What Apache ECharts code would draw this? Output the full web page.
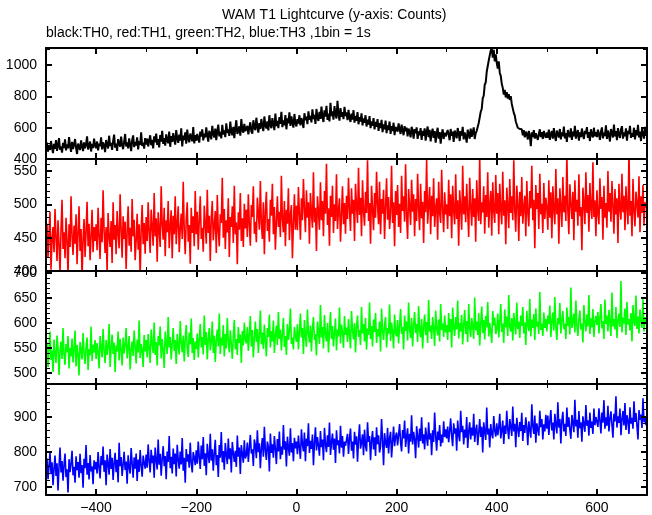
<!DOCTYPE html>
<html><head><meta charset="utf-8">
<script src="https://cdn.jsdelivr.net/npm/echarts@6/dist/echarts.min.js"></script>
<style>html,body{margin:0;padding:0;background:#fff}#c{width:652px;height:515px}</style>
</head><body><div id="c"></div>
<script>
const titleText = 'WAM T1 Lightcurve (y-axis: Counts)';
const subtitleText = 'black:TH0, red:TH1, green:TH2, blue:TH3 ,1bin = 1s';
const timeStart = -500, timeStep = 2;
const xMin = -500, xMax = 700;
const xMajorTicks = [-400,-200,0,200,400,600];
const xMinorTicks = [-500,-300,-100,100,300,500,700];

const th0 = [
462,505,447,489,458,515,472,438,497,466,521,452,486,534,459,480,441,503,470,526,455,493,468,540,482,
446,510,463,491,528,471,432,499,479,457,519,484,450,506,468,494,545,461,483,512,448,497,470,530,487,
470,512,455,499,482,538,461,506,488,444,521,495,467,549,484,503,459,514,556,473,498,452,527,500,479,
543,489,463,511,560,480,506,468,532,494,450,520,551,476,509,487,539,462,515,491,570,483,505,466,534,
493,531,480,516,552,488,523,468,545,506,562,490,527,474,553,512,580,497,533,485,558,519,501,575,478,
547,510,566,525,492,585,531,503,556,517,596,481,549,522,571,498,588,529,507,563,536,514,604,500,552,
517,560,528,505,575,543,590,519,562,538,603,549,511,580,556,526,612,561,537,594,520,578,620,545,573,
532,618,557,583,540,628,566,589,548,640,574,552,605,533,596,648,560,581,609,549,655,585,568,624,579,
570,612,558,601,635,576,562,648,603,584,664,609,569,630,592,656,612,578,672,615,596,640,583,680,618,
597,661,622,585,690,610,643,598,668,625,702,604,647,616,681,590,660,629,699,611,672,633,601,688,630,
608,655,627,680,615,662,640,598,693,648,671,623,705,651,676,634,718,655,683,625,720,664,643,702,657,
735,668,637,712,672,740,650,690,641,760,675,705,652,738,684,659,772,688,645,726,670,700,655,733,676,
698,648,715,665,637,690,652,712,633,676,645,700,622,668,640,692,615,660,632,680,608,652,621,675,598,
640,612,662,590,638,606,655,580,630,598,650,572,622,590,645,565,615,585,640,560,610,578,632,552,605,
612,575,628,590,560,620,584,552,610,578,600,545,595,570,538,606,580,530,592,565,602,528,576,552,598,
522,580,548,596,518,570,608,540,586,512,565,594,535,578,505,562,600,530,572,498,558,590,528,568,545,
540,585,555,520,592,548,575,510,582,560,532,598,566,515,578,550,605,525,570,545,505,588,560,530,595,
542,570,602,528,565,580,592,630,640,702,720,788,805,875,890,958,968,1030,1035,1095,1108,1048,1098,1025,1070,
1015,978,1025,952,932,882,855,812,842,795,828,786,815,778,802,752,740,695,678,640,628,600,595,592,580,
590,552,585,538,575,562,525,580,548,482,570,540,585,530,565,575,522,560,590,540,572,528,580,552,535,
570,535,588,522,560,578,530,598,548,515,582,560,538,592,525,570,545,608,532,566,510,585,555,540,596,
522,575,545,612,530,562,585,518,570,540,595,552,528,580,560,604,535,572,515,590,555,538,600,545,572,
540,588,560,522,575,602,532,568,548,615,528,582,555,512,592,568,538,620,545,578,520,598,558,535,588,
610,530,570,545,596,518,580,560,612,535,565,542,600,525,585,552,618,538,575,515,592,562,530,605,550,
565];

const th1 = [
438,471,420,455,489,402,447,466,428,493,451,415,476,440,398,462,507,433,458,419,480,445,395,470,436,
512,452,424,468,441,485,410,457,497,430,463,389,448,478,421,459,504,437,471,416,452,492,428,466,445,
470,431,495,452,418,480,443,521,460,427,466,398,487,451,436,475,412,503,447,469,425,490,456,434,515,
462,420,482,448,474,403,459,497,438,465,429,508,452,477,416,445,486,432,470,392,461,499,440,472,426,
481,445,503,458,427,492,466,438,517,452,479,414,488,461,436,527,470,447,495,422,476,458,505,434,468,
491,419,483,455,512,440,472,497,428,463,486,448,534,461,425,478,503,444,469,411,495,457,482,437,520,
455,489,432,476,512,448,465,429,498,470,441,522,457,483,415,479,505,446,468,490,427,514,461,437,485,
472,540,450,493,433,476,458,509,421,481,466,497,442,528,455,473,410,488,462,517,445,479,436,501,464,
492,451,515,470,438,499,481,527,456,474,443,510,486,462,535,471,448,503,425,489,519,460,478,444,507,
483,531,455,496,432,474,512,466,489,451,543,477,458,505,437,492,471,524,446,484,499,419,470,515,462,
498,461,526,485,447,509,476,538,492,458,521,480,503,441,517,487,465,548,473,495,430,512,489,462,533,
476,505,452,520,486,561,469,494,438,513,481,528,457,500,475,545,463,491,509,444,484,527,470,502,456,
513,478,540,492,460,524,486,507,445,531,497,472,555,484,510,452,536,490,468,519,487,566,475,502,441,
528,493,461,517,480,549,499,470,534,455,508,486,522,448,496,539,477,511,463,488,558,472,503,437,520,
484,529,466,501,457,543,490,512,474,560,482,448,523,497,469,537,489,515,452,508,475,546,493,461,531,
479,504,442,520,488,567,471,498,526,455,513,482,539,466,495,509,447,534,487,472,552,491,458,518,485,
500,463,537,482,515,449,528,491,470,545,478,506,438,521,494,462,558,485,512,473,531,489,451,540,497,
468,523,481,509,444,536,492,475,572,470,503,488,527,456,514,481,548,465,499,520,453,533,490,472,544,
486,517,455,531,492,470,549,483,506,440,525,498,464,538,487,512,476,566,490,459,528,503,445,519,482,
541,471,496,513,452,535,488,467,520,494,558,476,507,434,529,493,517,463,546,485,501,457,532,478,510,
495,462,536,480,518,449,527,492,470,553,485,509,441,524,497,466,541,488,513,475,575,490,455,530,501,
478,519,446,536,489,507,468,545,482,496,431,525,503,470,548,487,514,459,532,494,478,563,481,506,452,
521,486,470,539,493,511,447,528,480,502,465,550,489,517,474,535,498,456,523,485,509,442,531,494,477,
546,488,513,461,527,496,470,580,483,505,452,538,490,467,519,501,480,542,458,512,487,529,468,503,495,
510];

const th2 = [
530,561,512,548,583,526,545,502,567,539,520,575,551,496,544,563,528,590,537,516,558,541,574,509,550,
533,569,521,547,585,513,556,538,495,562,545,527,580,540,518,553,571,506,548,535,593,524,557,541,566,
528,560,542,509,574,551,531,588,545,520,566,536,553,598,512,549,577,538,561,502,555,543,583,525,568,
547,515,571,539,556,590,529,550,574,507,546,563,534,585,552,519,567,541,605,530,558,546,512,576,543,
566,531,578,549,520,587,558,540,601,536,562,515,574,555,593,529,568,546,510,583,560,538,612,551,572,
527,559,590,544,566,518,578,553,537,604,561,541,575,523,568,596,548,532,581,557,609,540,570,526,563,
548,579,531,567,598,551,572,537,615,556,582,527,569,590,545,561,603,540,575,522,566,587,553,619,538,
571,555,596,533,578,549,610,564,541,585,558,528,574,606,547,568,536,592,560,577,520,584,555,601,566,
559,592,544,578,614,553,586,531,570,603,562,588,540,576,625,557,581,548,597,565,533,590,572,617,551,
584,563,605,540,576,595,556,622,568,587,545,579,610,552,574,536,598,566,583,629,558,571,547,592,575,
562,598,547,583,619,571,590,538,606,574,552,627,580,561,595,543,588,612,566,578,535,603,584,558,636,
571,592,549,616,577,563,600,541,585,622,568,594,553,580,609,545,587,573,631,559,597,582,550,614,576,
591,562,608,577,549,624,585,567,600,541,593,615,572,586,556,632,579,598,563,610,547,589,576,641,568,
594,553,607,582,620,560,588,573,603,543,629,585,566,597,612,551,590,578,637,564,601,583,549,617,580,
573,606,559,595,628,578,592,547,615,584,603,565,641,588,570,610,553,596,622,580,598,562,634,585,571,
608,549,593,617,576,602,560,646,583,595,568,612,589,554,625,591,575,607,563,638,586,599,572,615,581,
596,566,620,582,608,551,631,593,574,612,587,645,569,600,583,616,557,597,626,578,604,562,638,589,572,
610,594,568,651,585,603,576,620,555,598,633,580,606,567,614,591,642,573,600,585,560,624,595,611,578,
588,619,571,603,638,582,599,560,627,591,613,574,656,592,583,610,565,620,597,577,641,588,603,570,615,
594,632,579,601,556,624,596,584,648,573,607,590,618,566,629,593,603,578,662,586,599,574,621,590,608,
583,615,598,635,572,603,621,585,652,592,566,610,597,640,579,605,624,588,599,568,631,594,612,577,671,
590,602,619,581,645,596,574,608,625,587,599,561,636,603,583,617,593,656,578,609,591,628,572,602,614,
596,622,579,610,638,589,604,568,647,598,615,583,626,601,574,661,593,608,587,632,570,605,619,592,684,
581,611,599,629,576,642,597,608,585,620,563,636,602,594,655,588,613,579,627,604,590,648,583,612,598,
605];

const th3 = [
745,781,722,760,798,736,770,705,752,789,731,767,690,758,812,741,774,718,763,795,728,750,684,779,742,
766,803,733,757,712,787,748,771,726,794,739,762,698,780,753,819,735,768,721,791,744,759,708,776,750,
771,738,799,756,724,788,762,815,743,776,705,792,767,735,808,751,783,720,769,797,742,777,713,826,759,
785,731,764,800,748,772,709,790,756,738,811,767,726,784,752,795,717,778,743,805,761,729,789,768,752,
792,755,821,774,741,806,768,789,726,812,777,750,835,763,794,732,781,816,759,788,722,801,771,845,753,
786,738,809,765,795,730,820,778,752,801,764,839,746,783,712,808,772,793,755,826,768,741,799,784,762,
804,766,829,785,751,818,779,842,760,796,733,823,789,768,851,775,807,746,797,834,762,791,728,819,783,
856,770,802,749,825,792,765,838,779,810,741,828,796,771,803,757,846,786,812,737,819,794,769,833,781,
790,826,771,812,848,795,807,760,835,818,782,861,799,824,753,810,839,786,871,803,777,829,814,744,852,
797,821,783,845,808,765,836,801,858,779,815,792,876,806,830,758,843,812,789,867,798,825,773,840,810,
829,793,846,811,780,864,822,801,855,773,838,816,881,797,831,808,849,762,826,870,804,842,818,789,859,
813,835,776,868,821,799,847,814,883,791,826,852,806,838,768,861,819,833,795,874,812,845,786,829,817,
812,851,794,838,866,803,829,781,857,820,844,772,835,878,809,826,850,790,863,817,801,884,828,845,776,
832,859,807,841,788,870,822,847,798,815,893,834,762,853,826,811,868,795,839,857,784,829,872,816,843,
855,818,847,879,826,801,862,838,889,814,843,867,795,851,829,904,821,857,836,782,873,845,812,866,831,
898,824,850,807,869,840,817,884,835,853,790,861,828,912,846,803,858,833,876,815,849,826,887,842,864,
838,872,827,859,895,844,816,881,852,867,803,889,848,830,917,856,874,821,863,840,899,811,858,884,835,
869,846,908,828,861,877,819,853,893,842,871,798,884,857,834,926,849,866,812,879,851,838,902,860,843,
881,847,869,908,838,860,889,822,875,851,917,864,836,893,872,845,929,858,880,813,897,866,842,885,859,
911,831,876,854,898,869,819,887,862,840,935,873,851,903,826,881,864,846,917,870,893,835,878,858,905,
866,903,848,887,919,861,883,835,908,877,852,941,869,893,824,889,914,858,880,845,926,871,898,862,837,
905,883,856,948,872,891,840,916,867,884,829,901,878,857,933,874,890,846,912,868,886,851,923,876,899,
903,871,924,889,852,912,883,947,866,898,874,931,858,894,915,877,840,908,886,958,869,901,882,923,847,
893,916,875,939,862,904,888,851,927,880,897,866,944,885,910,873,835,919,891,906,868,952,884,899,876,
905];

const seriesValues = [th0, th1, th2, th3];
const seriesNames = ['TH0','TH1','TH2','TH3'];
const seriesColors = ['#000000','#ff0000','#00ff00','#0000ff'];
const seriesWidths = [2, 1.6, 1.6, 1.6];
const panelRanges = [[400,1110],[400,568],[478,704],[677,993]];
const yMajorTicks = [
  [400,600,800,1000],
  [400,450,500,550],
  [500,550,600,650,700],
  [700,800,900]
];
const yMinorTicks = [
  [500,700,900,1100],
  [410,420,430,440,460,470,480,490,510,520,530,540,560],
  [480,490,510,520,530,540,560,570,580,590,610,620,630,640,660,670,680,690],
  [680,720,740,760,780,820,840,860,880,920,940,960,980]
];

const gridTops = [48,159,271,384];
const gridHeights = [111,112,113,112];
const FONT = 'Liberation Sans';

const grids = gridTops.map((t,i)=>({left:46, right:5, top:t, height:gridHeights[i], containLabel:false}));
const fmt = v => String(v).replace('-', '\u2212');

const xAxes = [], yAxes = [];
for (let g=0; g<4; g++) {
  ['bottom','top'].forEach(pos=>{
    [false,true].forEach(major=>{
      xAxes.push({
        type:'value', gridIndex:g, position:pos, min:xMin, max:xMax, z:5,
        axisLine:{show:!major, onZero:false, lineStyle:{color:'#000',width:2}},
        axisTick:{show:true, inside:true, length: major?6:4,
          customValues: major?xMajorTicks:xMinorTicks,
          lineStyle:{color:'#000', width: major?2:1}},
        axisLabel:{show: major && pos==='bottom' && g===3, customValues:xMajorTicks,
          color:'#000', fontSize:14, fontFamily:FONT, margin:6, formatter:fmt},
        splitLine:{show:false}
      });
    });
  });
  ['left','right'].forEach(pos=>{
    [false,true].forEach(major=>{
      yAxes.push({
        type:'value', gridIndex:g, position:pos, min:panelRanges[g][0], max:panelRanges[g][1], z:5,
        axisLine:{show:!major, onZero:false, lineStyle:{color:'#000',width:2}},
        axisTick:{show:true, inside:true, length: major?6:4,
          customValues: major?yMajorTicks[g]:yMinorTicks[g],
          lineStyle:{color:'#000', width: major?2:1}},
        axisLabel:{show: major && pos==='left', customValues:yMajorTicks[g],
          color:'#000', fontSize:14, fontFamily:FONT, margin:9, formatter:fmt},
        splitLine:{show:false}
      });
    });
  });
}

const series = seriesValues.map((vals,g)=>({
  name: seriesNames[g], type:'line', xAxisIndex:g*4, yAxisIndex:g*4,
  showSymbol:false, symbol:'none', clip:true, animation:false,
  lineStyle:{color:seriesColors[g], width:seriesWidths[g], join:'bevel'},
  data: vals.map((v,i)=>[timeStart + i*timeStep, v])
}));

const chart = echarts.init(document.getElementById('c'), null, {renderer:'canvas'});
chart.setOption({
  animation:false,
  backgroundColor:'#fff',
  title:[
    {text:titleText, left:222, top:8, textStyle:{fontSize:14, fontWeight:'normal', color:'#000', fontFamily:FONT}, padding:0},
    {text:subtitleText, left:46, top:26, textStyle:{fontSize:14, fontWeight:'normal', color:'#000', fontFamily:FONT}, padding:0}
  ],
  grid:grids, xAxis:xAxes, yAxis:yAxes, series:series
});
</script></body></html>
